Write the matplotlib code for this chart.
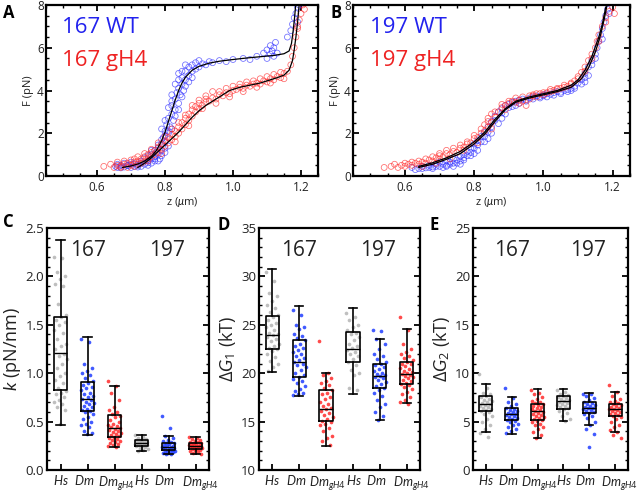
import numpy as np
import matplotlib
matplotlib.use("Agg")
import matplotlib.pyplot as plt
from matplotlib.ticker import MultipleLocator

plt.rcParams['font.family'] = ['Open Sans', 'DejaVu Sans']
plt.rcParams['mathtext.fontset'] = 'custom'
plt.rcParams['mathtext.rm'] = 'Open Sans'
plt.rcParams['mathtext.it'] = 'Lato:italic'
plt.rcParams['mathtext.bf'] = 'Open Sans:bold'

# ---------------- Force-extension data (panel A: 167) ----------------
a_wt_z = [0.655,0.66,0.67,0.68,0.69,0.70,0.70,0.71,0.72,0.73,0.73,0.74,0.75,0.75,0.76,0.76,0.77,0.77,0.775,0.78,0.78,0.785,0.79,0.79,0.795,0.80,0.80,0.80,0.805,0.81,0.81,0.815,0.82,0.82,0.825,0.83,0.83,0.835,0.84,0.84,0.845,0.85,0.85,0.855,0.86,0.86,0.87,0.87,0.88,0.88,0.89,0.89,0.90,0.90,0.91,0.92,0.93,0.94,0.96,0.98,1.00,1.03,1.05,1.07,1.09,1.10,1.10,1.11,1.11,1.115,1.12,1.12,1.125,1.13,1.16,1.17,1.175,1.18,1.185,1.19,1.19,1.195,
          0.66,0.67,0.68,0.69,0.70,0.71,0.72,0.73,0.74,0.75,0.76,0.77,0.78,0.79,0.80,0.81,0.79,0.78,0.77,0.80,0.81,0.82,0.83,0.84,0.85,0.86,0.80,0.82,0.84,0.83,0.85,0.87,0.88,0.86,0.84,0.82,0.81,0.79,0.76,0.75]
a_wt_F = [0.45,0.40,0.50,0.42,0.48,0.40,0.55,0.45,0.50,0.60,0.45,0.55,0.70,0.50,0.80,0.60,0.90,0.70,1.10,1.00,1.30,0.80,1.50,1.20,1.80,1.60,2.10,1.30,2.40,2.00,2.70,2.30,2.90,3.30,2.60,3.10,3.60,3.90,3.40,4.10,3.80,4.30,4.60,4.00,4.50,4.90,4.70,5.10,4.90,5.20,5.00,5.30,5.10,5.40,5.25,5.20,5.35,5.30,5.40,5.35,5.45,5.50,5.45,5.60,5.75,5.90,5.50,6.10,5.70,5.85,6.00,5.60,6.25,5.75,6.50,6.80,7.10,7.40,7.60,7.90,7.20,8.00,
          0.55,0.38,0.60,0.50,0.65,0.58,0.42,0.70,0.85,0.62,1.00,1.20,0.70,0.95,1.10,1.40,1.70,1.45,0.80,2.60,2.10,2.20,2.80,3.10,3.70,4.20,1.90,3.50,4.50,4.30,4.90,4.40,4.60,5.20,4.80,3.80,3.20,2.20,1.20,0.95]
a_gh_z = [0.62,0.65,0.66,0.67,0.68,0.69,0.69,0.70,0.71,0.71,0.72,0.72,0.73,0.73,0.74,0.74,0.75,0.75,0.76,0.76,0.77,0.77,0.78,0.78,0.79,0.79,0.80,0.80,0.81,0.81,0.82,0.82,0.83,0.83,0.84,0.84,0.85,0.85,0.86,0.86,0.87,0.87,0.88,0.88,0.89,0.89,0.90,0.90,0.91,0.92,0.92,0.93,0.94,0.95,0.96,0.97,0.98,0.99,1.00,1.01,1.02,1.03,1.04,1.05,1.06,1.07,1.08,1.09,1.10,1.11,1.12,1.13,1.14,1.15,1.16,1.17,1.175,1.18,1.185,1.19,1.195,1.20,1.205,1.21,
          0.64,0.66,0.68,0.70,0.72,0.74,0.76,0.78,0.80,0.82,0.84,0.86,0.88,0.90,0.92,0.94,0.96,0.98,1.00,1.02,1.04,1.06,1.08,1.10,1.12,1.14,0.67,0.71,0.75,0.79,0.83,0.87,0.91,0.95,0.99,1.03,1.07,1.11,1.15,1.19]
a_gh_F = [0.45,0.40,0.50,0.45,0.55,0.40,0.60,0.50,0.65,0.45,0.70,0.55,0.60,0.80,0.70,0.90,0.80,1.00,0.90,1.10,1.00,1.20,1.10,1.35,1.25,1.50,1.40,1.65,1.55,1.80,1.70,1.95,1.85,2.10,2.00,2.30,2.20,2.50,2.40,2.70,2.60,2.90,2.80,3.10,3.00,3.25,3.15,3.40,3.30,3.45,3.60,3.50,3.65,3.60,3.80,3.75,3.90,3.85,4.00,4.05,4.15,4.10,4.25,4.20,4.30,4.35,4.30,4.45,4.40,4.55,4.50,4.65,4.60,4.80,4.90,5.20,5.60,6.00,6.50,6.90,7.30,7.60,8.00,7.80,
          0.55,0.65,0.70,0.75,0.90,1.05,1.25,1.55,1.85,2.20,2.50,2.85,3.30,3.55,3.75,3.95,3.95,4.10,4.20,4.30,4.40,4.45,4.55,4.65,4.75,4.85,0.40,0.80,0.70,1.05,1.60,2.35,3.15,3.40,3.70,3.95,4.15,4.35,4.55,7.00]
a_wt_fit_z = [0.675,0.70,0.72,0.74,0.76,0.775,0.79,0.80,0.81,0.82,0.83,0.84,0.85,0.86,0.88,0.90,0.93,0.96,1.00,1.04,1.08,1.12,1.15,1.165,1.172,1.177,1.181,1.185]
a_wt_fit_F = [0.40,0.47,0.56,0.70,0.92,1.20,1.65,2.05,2.55,3.05,3.55,4.00,4.35,4.62,4.95,5.13,5.28,5.37,5.45,5.52,5.58,5.64,5.72,5.85,6.20,6.80,7.40,8.10]
a_gh_fit_z = [0.72,0.74,0.76,0.78,0.80,0.82,0.84,0.86,0.88,0.90,0.92,0.95,0.99,1.02,1.05,1.08,1.11,1.13,1.15,1.165,1.175,1.18,1.185,1.19,1.195]
a_gh_fit_F = [0.40,0.60,0.85,1.15,1.45,1.75,2.05,2.40,2.75,3.05,3.30,3.60,4.00,4.15,4.25,4.35,4.50,4.60,4.72,4.95,5.40,5.90,6.50,7.20,8.10]

# ---------------- Force-extension data (panel B: 197) ----------------
b_wt_z = [0.62,0.64,0.65,0.66,0.67,0.68,0.69,0.70,0.70,0.71,0.72,0.72,0.73,0.74,0.74,0.75,0.76,0.76,0.77,0.77,0.78,0.78,0.79,0.79,0.80,0.80,0.81,0.81,0.82,0.82,0.83,0.83,0.84,0.84,0.85,0.85,0.86,0.86,0.87,0.88,0.88,0.89,0.90,0.90,0.91,0.92,0.93,0.94,0.95,0.96,0.97,0.98,0.99,1.00,1.01,1.02,1.03,1.04,1.05,1.06,1.07,1.08,1.09,1.10,1.11,1.12,1.12,1.13,1.14,1.14,1.15,1.155,1.16,1.165,1.17,1.175,1.18,1.185,
          0.63,0.65,0.67,0.69,0.71,0.73,0.75,0.77,0.79,0.81,0.83,0.85,0.87,0.89,0.91,0.93,0.95,0.97,0.99,1.01,1.03,1.05,1.07,1.09,1.11,1.13,0.68,0.72,0.76,0.80,0.84,0.88,0.92,1.00,1.08,1.12,1.15,1.17,1.19,0.74]
b_wt_F = [0.40,0.35,0.45,0.38,0.50,0.42,0.55,0.45,0.65,0.55,0.70,0.50,0.65,0.80,0.60,0.75,0.90,0.70,1.00,0.85,1.15,0.95,1.30,1.10,1.50,1.30,1.65,1.45,1.85,1.60,2.05,1.85,2.30,2.05,2.55,2.30,2.80,2.60,3.00,3.15,2.95,3.30,3.35,3.20,3.45,3.50,3.55,3.60,3.55,3.65,3.70,3.75,3.72,3.80,3.85,3.82,3.90,3.95,3.92,4.00,4.05,4.10,4.20,4.35,4.50,4.80,4.60,5.10,5.40,5.20,5.70,6.00,6.30,6.60,6.90,7.20,7.50,7.80,
          0.30,0.35,0.40,0.45,0.40,0.55,0.60,0.75,0.95,1.20,1.60,2.00,2.45,2.90,3.25,3.40,3.50,3.60,3.65,3.70,3.78,3.85,3.95,4.10,4.30,4.70,0.35,0.45,0.55,1.05,1.75,2.70,3.30,3.75,4.00,4.40,5.50,6.40,7.60,0.45]
b_gh_z = [0.54,0.56,0.58,0.59,0.60,0.61,0.62,0.63,0.64,0.65,0.66,0.67,0.68,0.69,0.70,0.70,0.71,0.72,0.73,0.74,0.75,0.76,0.77,0.78,0.79,0.80,0.81,0.82,0.83,0.83,0.84,0.84,0.85,0.85,0.86,0.87,0.88,0.89,0.90,0.91,0.92,0.93,0.94,0.95,0.96,0.97,0.98,0.99,1.00,1.01,1.02,1.03,1.04,1.05,1.06,1.07,1.08,1.09,1.10,1.11,1.12,1.13,1.14,1.15,1.155,1.16,1.17,1.18,1.19,1.20,1.205,
          0.57,0.60,0.62,0.64,0.66,0.68,0.70,0.72,0.74,0.76,0.78,0.80,0.82,0.84,0.86,0.88,0.90,0.92,0.94,0.96,0.98,1.00,1.02,1.04,1.06,1.08,1.10,1.12,1.14,1.16,0.65,0.69,0.73,0.77,0.81,0.85,0.89,0.93,0.97,1.18]
b_gh_F = [0.40,0.45,0.40,0.50,0.45,0.55,0.50,0.60,0.55,0.65,0.60,0.75,0.70,0.85,0.80,0.95,0.90,1.05,1.00,1.15,1.10,1.30,1.35,1.50,1.55,1.75,1.80,2.00,2.10,2.40,2.30,2.70,2.50,2.90,2.75,3.00,3.20,3.30,3.40,3.50,3.45,3.55,3.50,3.30,3.60,3.75,3.70,3.85,3.80,3.90,3.95,4.00,4.05,4.10,4.15,4.20,4.30,4.45,4.65,4.85,5.10,5.40,5.70,6.00,6.30,6.60,7.00,7.40,7.70,7.90,7.60,
          0.55,0.60,0.65,0.70,0.80,0.90,1.05,1.20,1.30,1.45,1.60,1.90,2.20,2.55,3.00,3.35,3.50,3.65,3.70,3.75,3.85,3.90,4.05,4.10,4.25,4.35,4.55,4.90,5.50,6.30,0.45,0.60,0.80,1.20,1.55,2.20,3.10,3.40,3.80,7.20]
b_wt_fit_z = [0.64,0.68,0.72,0.76,0.80,0.83,0.86,0.89,0.92,0.96,1.00,1.04,1.08,1.11,1.13,1.15,1.165,1.175,1.185]
b_wt_fit_F = [0.40,0.55,0.78,1.05,1.50,1.95,2.55,3.10,3.45,3.65,3.80,3.95,4.15,4.55,5.05,5.80,6.60,7.30,8.10]
b_gh_fit_z = [0.64,0.68,0.72,0.76,0.80,0.83,0.86,0.89,0.92,0.96,1.00,1.04,1.08,1.10,1.12,1.14,1.16,1.17,1.18]
b_gh_fit_F = [0.45,0.62,0.85,1.15,1.60,2.05,2.65,3.15,3.50,3.70,3.85,4.00,4.25,4.50,4.95,5.60,6.50,7.10,7.90]

# ---------------- Box plot data ----------------
group_labels = ['$Hs$', '$Dm$', '$Dm_{gH4}$', '$Hs$', '$Dm$', '$Dm_{gH4}$']
group_colors = ['#b4b4b4', '#1f3dff', '#ff2b2b', '#b4b4b4', '#1f3dff', '#ff2b2b']

# stats: (whislo, q1, med, q3, whishi)
k_stats = [(0.47, 0.83, 1.21, 1.58, 2.38), (0.36, 0.61, 0.73, 0.91, 1.37), (0.24, 0.34, 0.43, 0.57, 0.87),
           (0.20, 0.25, 0.28, 0.31, 0.36), (0.17, 0.21, 0.24, 0.28, 0.35), (0.17, 0.22, 0.25, 0.28, 0.34)]
k_points = [
    [2.2,2.19,2.05,2.0,1.97,1.92,1.9,1.72,1.6,1.58,1.55,1.53,1.5,1.45,1.42,1.35,1.3,1.28,1.25,1.2,1.18,1.15,1.1,1.05,1.0,0.97,0.93,0.9,0.85,0.82,0.8,0.78,0.75,0.72,0.7,0.68,0.65,0.62,0.48],
    [1.35,1.32,1.1,1.05,1.02,1.0,0.98,0.95,0.92,0.9,0.88,0.86,0.85,0.83,0.8,0.78,0.76,0.75,0.73,0.72,0.7,0.69,0.68,0.66,0.65,0.63,0.62,0.61,0.6,0.58,0.55,0.53,0.5,0.48,0.46,0.44,0.4,0.38,0.37],
    [0.92,0.87,0.8,0.72,0.65,0.62,0.6,0.58,0.56,0.55,0.52,0.5,0.48,0.47,0.45,0.44,0.43,0.42,0.41,0.4,0.39,0.38,0.37,0.36,0.35,0.34,0.33,0.32,0.31,0.3,0.29,0.28,0.27,0.26,0.25,0.24],
    [0.36,0.34,0.33,0.32,0.31,0.31,0.3,0.3,0.29,0.29,0.28,0.28,0.28,0.27,0.27,0.26,0.26,0.25,0.25,0.24,0.23,0.22,0.21,0.2],
    [0.56,0.43,0.35,0.33,0.31,0.3,0.29,0.28,0.28,0.27,0.26,0.25,0.25,0.24,0.24,0.23,0.23,0.22,0.22,0.21,0.21,0.2,0.2,0.19,0.19,0.18,0.18,0.17,0.17],
    [0.34,0.33,0.32,0.31,0.3,0.29,0.29,0.28,0.28,0.27,0.27,0.26,0.26,0.26,0.25,0.25,0.25,0.24,0.24,0.24,0.23,0.23,0.22,0.22,0.21,0.21,0.2,0.19,0.18,0.17],
]
g1_stats = [(20.1, 22.5, 23.9, 25.9, 30.8), (17.65, 19.6, 21.2, 23.4, 26.9), (12.5, 15.05, 16.3, 18.3, 20.0),
            (17.85, 21.2, 22.45, 24.3, 26.7), (15.2, 18.5, 19.7, 20.9, 23.55), (16.9, 18.85, 19.9, 21.2, 24.55)]
g1_points = [
    [30.5,29.5,28.3,28.0,27.5,27.0,26.7,26.3,26.0,25.8,25.5,25.2,25.0,24.8,24.5,24.2,24.0,23.9,23.7,23.5,23.3,23.0,22.8,22.6,22.5,22.3,22.0,21.7,21.3,21.0,20.6,20.2],
    [26.5,26.0,25.0,24.8,24.6,24.0,23.8,23.6,23.4,23.0,22.8,22.6,22.4,22.2,22.0,21.8,21.6,21.4,21.2,21.0,20.8,20.6,20.3,20.0,19.8,19.6,19.4,19.2,19.0,18.7,18.4,18.2,18.0,17.8,17.7],
    [23.3,20.0,19.8,19.5,19.2,19.0,18.8,18.5,18.3,18.0,17.8,17.5,17.3,17.0,16.8,16.6,16.4,16.3,16.1,15.9,15.7,15.5,15.3,15.1,15.0,14.8,14.6,14.3,14.0,13.5,13.3,13.0,12.6],
    [26.2,25.8,25.5,25.0,24.8,24.5,24.2,24.0,23.7,23.4,23.0,22.8,22.6,22.4,22.2,22.0,21.8,21.5,21.2,20.8,20.3,20.0,19.8,18.5,18.3],
    [24.5,24.4,23.5,23.0,22.5,22.0,21.8,21.5,21.2,21.0,20.8,20.6,20.4,20.2,20.0,19.9,19.8,19.7,19.6,19.5,19.3,19.1,18.9,18.7,18.5,18.3,18.0,17.6,17.2,16.8,16.5,16.0,15.6,15.2],
    [25.8,24.5,23.0,22.5,22.2,22.0,21.8,21.6,21.4,21.2,21.0,20.9,20.7,20.5,20.4,20.2,20.1,20.0,19.9,19.8,19.7,19.6,19.5,19.3,19.2,19.0,18.9,18.8,18.6,18.4,18.1,17.8,17.5,17.2,17.0,16.8],
]
g2_stats = [(3.9, 6.1, 6.85, 7.6, 8.9), (3.77, 5.2, 5.8, 6.4, 7.5), (3.3, 5.2, 6.06, 6.8, 8.35),
            (5.1, 6.3, 7.1, 7.6, 8.35), (4.6, 5.9, 6.4, 7.0, 7.95), (3.9, 5.6, 6.3, 6.85, 8.1)]
g2_points = [
    [9.9,8.5,8.0,7.8,7.6,7.5,7.3,7.2,7.1,7.0,6.9,6.8,6.7,6.6,6.5,6.4,6.3,6.2,6.1,6.0,5.8,5.6,5.3,5.0,4.6,4.2,3.8,3.4],
    [8.5,7.4,7.0,6.8,6.6,6.4,6.3,6.2,6.1,6.0,5.9,5.8,5.8,5.7,5.6,5.5,5.4,5.3,5.2,5.1,5.0,4.8,4.6,4.4,4.2,4.0,3.8],
    [8.3,8.0,7.8,7.5,7.3,7.1,7.0,6.9,6.8,6.7,6.6,6.5,6.4,6.3,6.2,6.1,6.0,5.9,5.8,5.7,5.6,5.5,5.4,5.3,5.2,5.1,5.0,4.8,4.6,4.4,4.2,3.9,3.6,3.3],
    [8.3,8.1,7.9,7.7,7.6,7.5,7.4,7.3,7.2,7.1,7.0,6.9,6.8,6.7,6.6,6.5,6.4,6.3,6.1,5.9,5.6,5.3,5.1],
    [7.9,7.8,7.6,7.4,7.2,7.0,6.9,6.8,6.7,6.6,6.5,6.4,6.4,6.3,6.2,6.1,6.0,5.9,5.8,5.6,5.4,5.0,4.6,4.2,3.7,2.4],
    [8.8,8.1,7.6,7.3,7.1,7.0,6.9,6.8,6.7,6.6,6.5,6.4,6.3,6.3,6.2,6.1,6.0,5.9,5.8,5.7,5.6,5.5,5.3,5.0,4.7,4.4,4.1,3.9,3.6,3.3],
]

TXT = '#222222'
W, H = 638, 492
fig = plt.figure(figsize=(W / 100, H / 100), dpi=100)

def rect(l, t, r, b):
    return [l / W, 1 - b / H, (r - l) / W, (b - t) / H]

def style_axes(ax, fs):
    for s in ax.spines.values():
        s.set_linewidth(1.6)
    ax.tick_params(which='both', direction='in', top=True, right=True, colors='black',
                   labelcolor=TXT, labelsize=fs)
    ax.tick_params(which='major', length=4, width=1.3)
    ax.tick_params(which='minor', length=2.5, width=1.0)

# ---- top panels ----
BLUE = '#2f2fff'
RED = '#ff2a2a'
def fe_panel(ax, wz, wF, gz, gF, wfz, wfF, gfz, gfF, lab):
    ax.scatter(wz, wF, s=18, facecolors='none', edgecolors=BLUE, linewidths=0.55, alpha=0.7, zorder=2)
    ax.scatter(gz, gF, s=18, facecolors='none', edgecolors=RED, linewidths=0.55, alpha=0.7, zorder=2)
    ax.plot(wfz, wfF, color='black', lw=0.9, zorder=3)
    ax.plot(gfz, gfF, color='black', lw=0.9, zorder=3)
    ax.set_xlim(0.45, 1.25)
    ax.set_ylim(0, 8)
    ax.xaxis.set_minor_locator(MultipleLocator(0.05))
    ax.yaxis.set_major_locator(MultipleLocator(2))
    ax.yaxis.set_minor_locator(MultipleLocator(0.5))
    ax.set_xticks([0.6, 0.8, 1.0, 1.2])
    ax.set_xticklabels(['0.6', '0.8', '1.0', '1.2'])
    style_axes(ax, 8.5)
    ax.tick_params(axis='y', pad=1.5)
    ax.set_xlabel('z ($\\mu$m)', fontsize=8, color=TXT, labelpad=1)
    ax.set_ylabel('F (pN)', fontsize=8, color=TXT, labelpad=2)
    ax.text(0.06, 0.93, lab + ' WT', transform=ax.transAxes, color='#2222ee', fontsize=16, va='top', ha='left')
    ax.text(0.06, 0.735, lab + ' gH4', transform=ax.transAxes, color='#ee2222', fontsize=16, va='top', ha='left')

axA = fig.add_axes(rect(46, 5, 318, 176))
fe_panel(axA, a_wt_z, a_wt_F, a_gh_z, a_gh_F, a_wt_fit_z, a_wt_fit_F, a_gh_fit_z, a_gh_fit_F, '167')
axB = fig.add_axes(rect(353, 5, 630, 176))
fe_panel(axB, b_wt_z, b_wt_F, b_gh_z, b_gh_F, b_wt_fit_z, b_wt_fit_F, b_gh_fit_z, b_gh_fit_F, '197')

# ---- bottom panels ----
label_shift = [0.0, -0.12, 0.06, 0.02, -0.15, 0.18]

def box_panel(ax, stats, points, ylim, major, minor, ylabel):
    pos = np.arange(1, 7)
    for i, (vals, col) in enumerate(zip(points, group_colors)):
        n = len(vals)
        offs = (((np.arange(n) * 0.618034) % 1.0) - 0.5) * 0.5
        ax.scatter(pos[i] + offs, vals, s=7, color=col, alpha=0.85, linewidths=0, zorder=2)
    bst = [dict(whislo=s[0], q1=s[1], med=s[2], q3=s[3], whishi=s[4]) for s in stats]
    ax.bxp(bst, positions=pos, widths=0.5, capwidths=0.3, showfliers=False, patch_artist=False,
           boxprops=dict(color='black', lw=1.2), whiskerprops=dict(color='black', lw=1.2),
           capprops=dict(color='black', lw=1.2), medianprops=dict(color='black', lw=1.0))
    ax.set_xlim(0.5, 6.5)
    ax.set_ylim(*ylim)
    ax.set_xticks(pos)
    ax.set_xticklabels([''] * 6)
    for p, lab, sh in zip(pos, group_labels, label_shift):
        ax.text(p + sh, -0.018, lab, transform=ax.get_xaxis_transform(), ha='center', va='top',
                fontsize=9.2, color=TXT)
    ax.yaxis.set_major_locator(MultipleLocator(major))
    ax.yaxis.set_minor_locator(MultipleLocator(minor))
    style_axes(ax, 9.5)
    ax.tick_params(axis='x', which='both', top=False)
    ax.tick_params(axis='y', pad=2)
    ax.set_ylabel(ylabel, fontsize=13, color=TXT, labelpad=2)
    ax.text(0.25, 0.905, '167', transform=ax.transAxes, fontsize=15, color=TXT, ha='center', va='center')
    ax.text(0.74, 0.905, '197', transform=ax.transAxes, fontsize=15, color=TXT, ha='center', va='center')

axC = fig.add_axes(rect(47, 228, 209, 470))
box_panel(axC, k_stats, k_points, (0, 2.5), 0.5, 0.1, '$k$ (pN/nm)')
axD = fig.add_axes(rect(259, 228, 420, 470))
box_panel(axD, g1_stats, g1_points, (10, 35), 5, 1, '$\\Delta G_1$ (kT)')
axE = fig.add_axes(rect(473, 228, 628, 470))
box_panel(axE, g2_stats, g2_points, (0, 25), 5, 1, '$\\Delta G_2$ (kT)')

for lbl, x, y in [('A', 9, 13), ('B', 336, 13), ('C', 8, 222), ('D', 224, 225), ('E', 434, 225)]:
    fig.text(x / W, 1 - y / H, lbl, fontsize=12, fontweight='bold', ha='center', va='center', color='black')

fig.savefig('out.png', dpi=100)
